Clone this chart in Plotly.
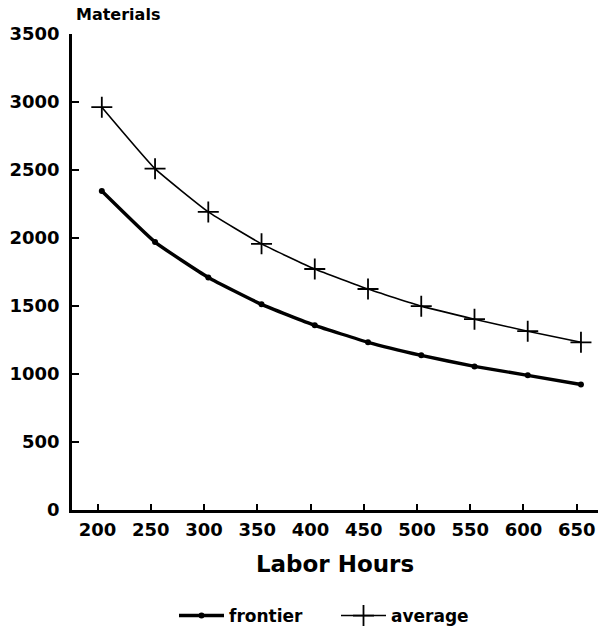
import plotly.graph_objects as go

labor_hours = [200, 250, 300, 350, 400, 450, 500, 550, 600, 650]
frontier = [2345, 1970, 1710, 1512, 1358, 1233, 1137, 1056, 990, 923]
average = [2962, 2510, 2192, 1957, 1772, 1625, 1499, 1403, 1315, 1233]
x_ticks = [200, 250, 300, 350, 400, 450, 500, 550, 600, 650]
y_ticks = [0, 500, 1000, 1500, 2000, 2500, 3000, 3500]

FONT = "DejaVu Sans"

fig = go.Figure()
fig.add_trace(go.Scatter(
    x=[v + 4 for v in labor_hours], y=frontier, name="frontier",
    mode="lines+markers",
    line=dict(color="black", width=3.4, shape="spline", smoothing=0.4),
    marker=dict(symbol="circle", size=6, color="black"),
))
fig.add_trace(go.Scatter(
    x=[v + 4 for v in labor_hours], y=average, name="average",
    mode="lines+markers",
    line=dict(color="black", width=1.6, shape="spline", smoothing=0.4),
    marker=dict(symbol="cross-thin", size=15, color="black",
                line=dict(color="black", width=1.8)),
))

fig.update_layout(
    width=600, height=634,
    margin=dict(l=72, r=2, t=34, b=124),
    paper_bgcolor="white", plot_bgcolor="white",
    font=dict(family=FONT, color="black", size=15),
    showlegend=True,
    legend=dict(orientation="h", x=(174 - 72) / 526, xanchor="left", xref="paper",
                y=2, yref="container", yanchor="bottom",
                font=dict(family=FONT, size=17, weight="bold"),
                itemwidth=45,
                entrywidth=102, entrywidthmode="pixels", tracegroupgap=0),
    annotations=[dict(text="<b>Materials</b>", x=0.004, xref="paper", xanchor="left",
                      y=1.0, yref="paper", yanchor="bottom", yshift=8, showarrow=False,
                      font=dict(size=16, family=FONT))],
)

fig.update_xaxes(
    range=[176, 670], tickvals=x_ticks, ticktext=[str(t) for t in x_ticks],
    ticks="inside", ticklen=6, tickwidth=2, tickcolor="black",
    showline=True, linecolor="black", linewidth=2.5, showgrid=False, zeroline=False,
    tickfont=dict(family=FONT, size=18, weight="bold"),
    ticklabelstandoff=2,
    title=dict(text="Labor Hours", standoff=17,
               font=dict(family=FONT, size=23, weight="bold")),
)
fig.update_yaxes(
    range=[0, 3500], tickvals=y_ticks, ticktext=[str(t) for t in y_ticks],
    ticks="inside", ticklen=7, tickwidth=2, tickcolor="black",
    showline=True, linecolor="black", linewidth=2.5, showgrid=False, zeroline=False,
    tickfont=dict(family=FONT, size=18, weight="bold"),
    ticklabelstandoff=6,
)

fig.write_html("out.html")
